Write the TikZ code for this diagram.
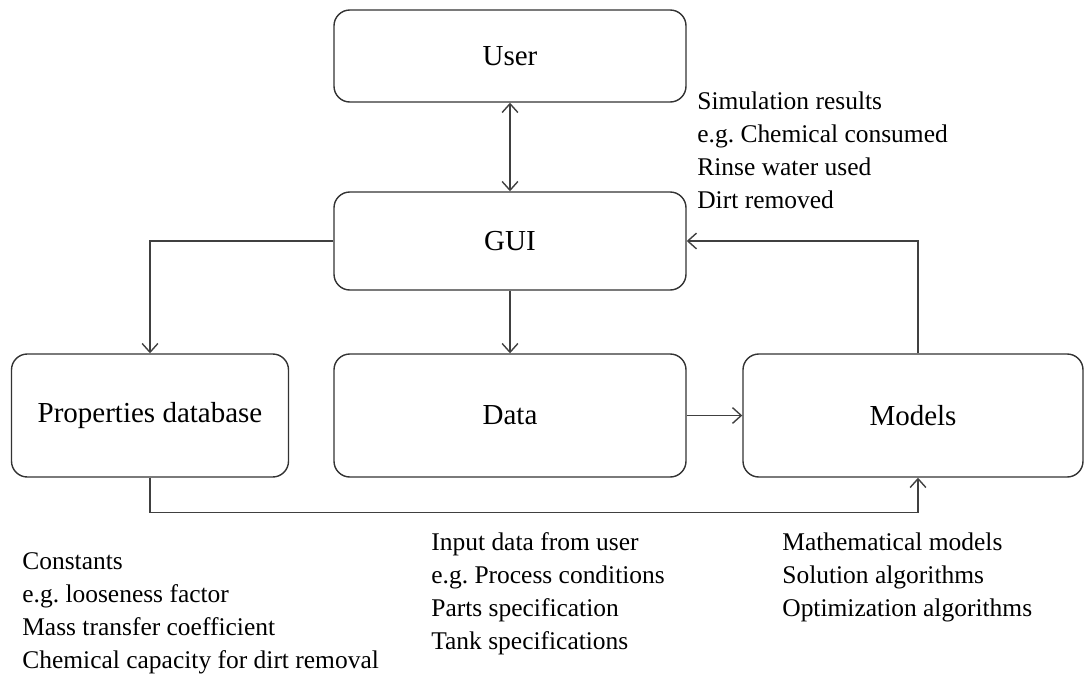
\documentclass[tikz,border=0pt]{standalone}
\usepackage{fontspec}
\setmainfont{Liberation Serif}
\usetikzlibrary{arrows.meta}

\begin{document}
\begin{tikzpicture}[x=0.02cm,y=-0.02cm,
  >={Straight Barb[length=5pt,width=9pt]},
  block/.style={draw=black!80,line width=0.8pt,rounded corners=9pt,font=\fontsize{16.5}{19}\selectfont},
  link/.style={->,draw=black!75,line width=0.8pt},
  note/.style={anchor=north west,align=left,inner sep=0pt,font=\fontsize{14.5}{18.8}\selectfont}]
\useasboundingbox (0,0) rectangle (1086,683);
% boxes
\node[block,minimum width=352*0.02cm,minimum height=92*0.02cm] (user) at (510,56) {User};
\node[block,minimum width=352*0.02cm,minimum height=98*0.02cm] (gui) at (510,241) {GUI};
\node[block,minimum width=277*0.02cm,minimum height=123*0.02cm] (prop) at (150,415.5) {Properties database};
\node[block,minimum width=352*0.02cm,minimum height=123*0.02cm] (data) at (510,415.5) {Data};
\node[block,minimum width=340*0.02cm,minimum height=123*0.02cm] (models) at (913,415.5) {Models};
% arrows
\draw[link,<->] (user) -- (gui);
\draw[link] (gui.west) -| (prop.north);
\draw[link] (gui) -- (data);
\draw[link] (data) -- (models);
\draw[link] ([xshift=5*0.02cm]models.north) |- (gui.east);
\draw[link] (prop.south) -- ++(0,35) -| ([xshift=5*0.02cm]models.south);
% notes
\node[note] (simres) at (697,91) {Simulation results\\e.g.\ Chemical consumed\\Rinse water used\\Dirt removed};
\node[note] (propnote) at (22,552) {Constants\\e.g.\ looseness factor\\Mass transfer coefficient\\Chemical capacity for dirt removal};
\node[note] (datanote) at (431,532) {Input data from user\\e.g.\ Process conditions\\Parts specification\\Tank specifications};
\node[note] (modnote) at (782,532) {Mathematical models\\Solution algorithms\\Optimization algorithms};
\end{tikzpicture}
\end{document}
